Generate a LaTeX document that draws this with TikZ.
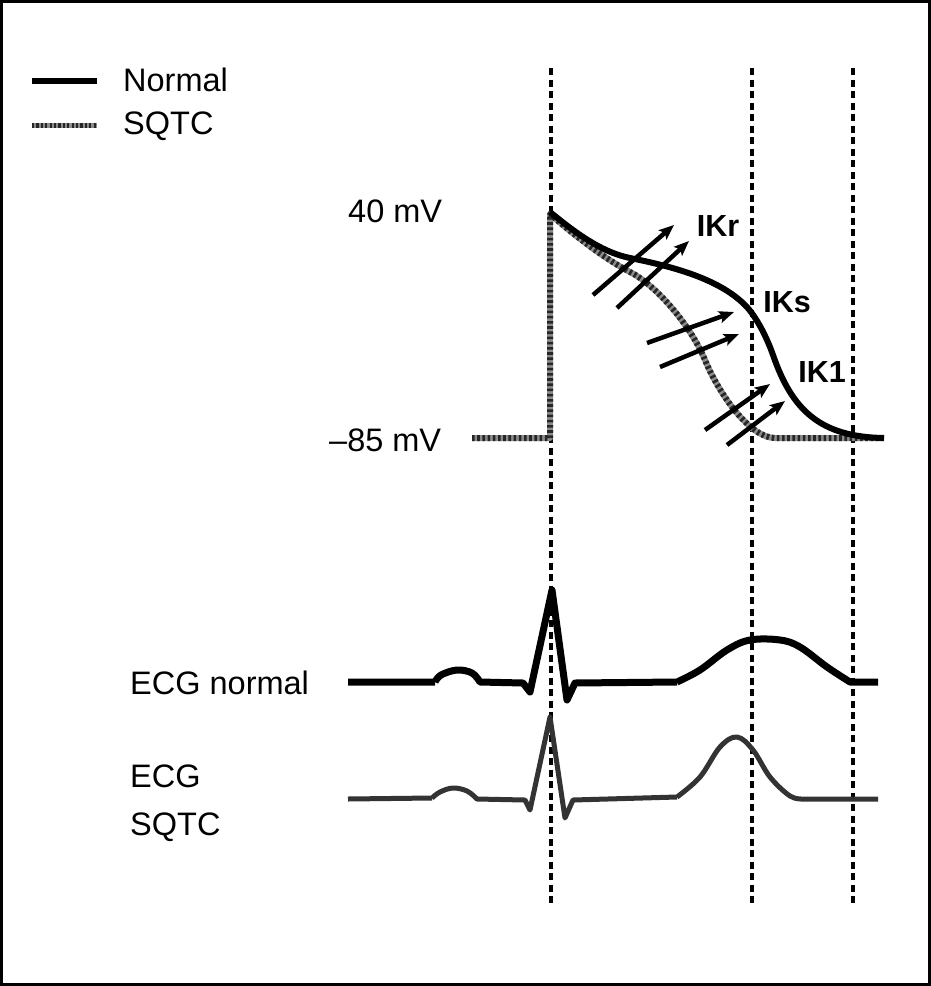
\documentclass[tikz,border=0pt]{standalone}
\usepackage{fontspec}
\setmainfont{Liberation Sans}
\usetikzlibrary{arrows.meta}
\tikzset{
  lbl/.style={font=\fontsize{32.5}{38}\selectfont, inner sep=0pt, anchor=west},
  blbl/.style={font=\bfseries\fontsize{30.5}{36}\selectfont, inner sep=0pt},
  vguide/.style={line width=3.2pt, dash pattern=on 7pt off 4.5pt, black},
  normalap/.style={line width=6pt, black, line join=round, line cap=butt},
  sqtcbase/.style={line width=6pt, black!45, line join=round},
  sqtcdots/.style={line width=6pt, black!85, dash pattern=on 2.6pt off 2.6pt, line join=round},
  curarrow/.style={line width=4.5pt, black, -{Stealth[length=15pt,width=12pt,inset=3pt]}},
  ecgn/.style={line width=7pt, black, line join=round},
  ecgs/.style={line width=5pt, black!80, line join=round},
}
\begin{document}
\begin{tikzpicture}[x=1pt,y=-1pt]
\useasboundingbox (0,0) rectangle (931,986);
\fill[white] (0,0) rectangle (931,986);
\draw[line width=2.6pt] (1.3,1.3) rectangle (929.5,984.5);

% legend
\draw[line width=6pt] (32,81) -- (97,81);
\draw[line width=5pt, black!45] (32,125) -- (97,125);
\draw[line width=5pt, black!85, dash pattern=on 2.2pt off 2.2pt] (32,125) -- (97,125);
\node[lbl] (lnormal) at (123,80) {Normal};
\node[lbl] (lsqtc) at (123,126) {SQTC};

% vertical guides
\draw[vguide] (551,68) -- (551,905);
\draw[vguide] (752,68) -- (752,905);
\draw[vguide] (853,68) -- (853,905);

% axis labels
\node[lbl] (v40) at (348,211) {40 mV};
\node[lbl] (v85) at (329,440) {–85 mV};

% SQTC action potential
\def\sqtcpath{(472,438) -- (550,438) -- (550,214)
  .. controls (575,236) and (605,259) .. (630,272)
  .. controls (655,284.5) and (690,324) .. (705,360)
  .. controls (719,394) and (750,438) .. (775,438)
  -- (884,438)}
\draw[sqtcbase] \sqtcpath;
\draw[sqtcdots] \sqtcpath;

% normal action potential
\draw[normalap] (550,212)
  .. controls (572,230) and (600,252) .. (630,258)
  .. controls (670,266) and (718,278) .. (745,305)
  .. controls (755,315) and (766,335) .. (773,355)
  .. controls (792,410) and (820,437) .. (884,438);

% currents
\draw[curarrow] (593,295) -- (674,225);
\draw[curarrow] (617,308) -- (689,241);
\draw[curarrow] (647,343) -- (734,312);
\draw[curarrow] (660,367) -- (739,334);
\draw[curarrow] (705,430) -- (770,384);
\draw[curarrow] (727,445) -- (785,401);
\node[blbl] (ikr) at (718,226) {IKr};
\node[blbl] (iks) at (787,302) {IKs};
\node[blbl] (ik1) at (822,372) {IK1};

% ECG normal
\draw[ecgn] (348,682) -- (435,682)
  plot[smooth, tension=0.6] coordinates {(435,682) (441,675) (457,670) (472,673) (480,682)}
  -- (523,683) -- (530,692) -- (552,590) -- (567,700) -- (575,683) -- (677,682)
  plot[smooth, tension=0.6] coordinates {(677,682) (700,670) (727,650) (750,640) (780,640) (800,647) (827,667) (850,682)}
  -- (878,682);
\node[lbl] (ecgnl) at (130,683) {ECG normal};

% ECG SQTC
\draw[ecgs] (348,799) -- (432,798)
  plot[smooth, tension=0.6] coordinates {(432,798) (440,792) (453,788) (467,791) (477,799)}
  -- (525,800) -- (530,810) -- (550,717) -- (565,818) -- (573,800) -- (677,797)
  plot[smooth, tension=0.6] coordinates {(677,797) (700,777) (720,747) (737,737) (753,750) (770,777) (790,796) (803,799)}
  -- (878,799);
\node[lbl, align=left, font=\fontsize{32.5}{48}\selectfont] (ecgsl) at (130,803) {ECG\\SQTC};
\end{tikzpicture}
\end{document}
